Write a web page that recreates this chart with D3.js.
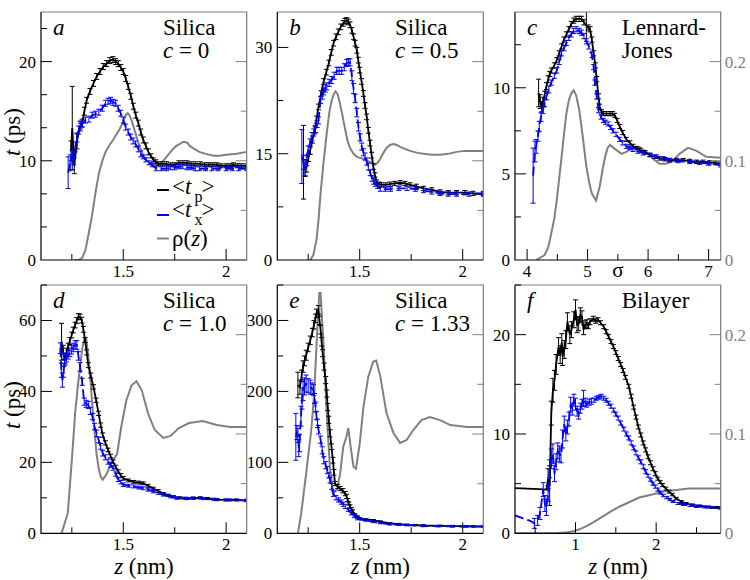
<!DOCTYPE html>
<html><head><meta charset="utf-8">
<script src="https://cdn.jsdelivr.net/npm/d3@7"></script>
</head><body style="margin:0"><svg id="c" width="750" height="580"></svg>
<script>
// ---------- data: [z, value, error] ----------
const aTp=[[1.246,11.0,1.0],[1.252,13.3,4.2],[1.262,9.5,0.8],[1.275,12.0,0.8],[1.29,13.5,0.5],[1.30,13.8,0.4],[1.311,15.0,0.4],[1.322,16.1,0.3],[1.338,17.0,0.3],[1.355,17.8,0.3],[1.371,18.5,0.3],[1.387,19.0,0.3],[1.403,19.5,0.3],[1.419,19.8,0.3],[1.435,20.1,0.3],[1.45,20.2,0.3],[1.463,20.0,0.3],[1.476,19.8,0.3],[1.488,19.4,0.3],[1.50,19.0,0.3],[1.512,18.3,0.3],[1.524,17.5,0.3],[1.537,16.5,0.3],[1.549,15.5,0.3],[1.561,14.6,0.3],[1.573,13.8,0.3],[1.585,12.9,0.3],[1.597,12.1,0.3],[1.61,11.5,0.3],[1.622,10.9,0.3],[1.634,10.5,0.2],[1.646,10.1,0.2],[1.658,9.9,0.2],[1.67,9.7,0.2],[1.69,9.7,0.2],[1.71,9.7,0.2],[1.73,9.6,0.2],[1.75,9.6,0.2],[1.77,9.8,0.2],[1.79,9.8,0.2],[1.81,9.8,0.2],[1.83,9.7,0.2],[1.85,9.7,0.2],[1.874,9.7,0.2],[1.895,9.6,0.2],[1.915,9.6,0.2],[1.935,9.6,0.2],[1.955,9.6,0.2],[1.975,9.5,0.2],[2.0,9.5,0.2],[2.02,9.5,0.2],[2.036,9.6,0.2],[2.055,9.5,0.2],[2.075,9.5,0.2],[2.1,9.5,0.2]];
const aTx=[[1.232,8.8,1.6],[1.242,9.8,0.8],[1.251,10.4,0.6],[1.259,10.2,0.6],[1.267,11.4,0.5],[1.275,12.3,0.4],[1.283,13.1,0.4],[1.292,13.5,0.3],[1.30,13.7,0.3],[1.316,14.1,0.3],[1.333,14.2,0.3],[1.349,14.6,0.3],[1.365,14.7,0.3],[1.381,14.9,0.3],[1.398,15.3,0.3],[1.414,15.8,0.3],[1.426,16.0,0.3],[1.438,16.1,0.3],[1.45,15.9,0.3],[1.463,15.8,0.3],[1.475,15.3,0.3],[1.487,14.8,0.3],[1.50,14.1,0.3],[1.512,13.4,0.3],[1.524,12.9,0.3],[1.536,12.4,0.3],[1.548,12.0,0.3],[1.56,11.7,0.3],[1.573,11.2,0.3],[1.585,10.7,0.3],[1.597,10.4,0.2],[1.61,10.1,0.2],[1.625,9.8,0.2],[1.64,9.6,0.2],[1.66,9.2,0.2],[1.685,9.2,0.2],[1.71,9.2,0.2],[1.73,9.3,0.2],[1.75,9.3,0.2],[1.77,9.4,0.2],[1.79,9.4,0.2],[1.81,9.3,0.2],[1.83,9.3,0.2],[1.85,9.2,0.2],[1.87,9.2,0.2],[1.9,9.2,0.2],[1.93,9.2,0.2],[1.96,9.2,0.2],[2.0,9.2,0.2],[2.03,9.2,0.2],[2.06,9.2,0.2],[2.1,9.2,0.2]];
const aRho=[[1.26,0],[1.283,0],[1.30,0.002],[1.316,0.01],[1.333,0.028],[1.349,0.046],[1.365,0.068],[1.381,0.087],[1.398,0.10],[1.414,0.109],[1.43,0.115],[1.45,0.121],[1.465,0.126],[1.48,0.131],[1.497,0.138],[1.512,0.146],[1.522,0.148],[1.53,0.146],[1.54,0.141],[1.55,0.134],[1.565,0.124],[1.58,0.114],[1.595,0.107],[1.61,0.101],[1.625,0.098],[1.64,0.096],[1.66,0.096],[1.677,0.097],[1.695,0.1],[1.71,0.104],[1.726,0.108],[1.742,0.112],[1.758,0.115],[1.775,0.117],[1.79,0.119],[1.80,0.119],[1.812,0.118],[1.823,0.115],[1.845,0.112],[1.87,0.109],[1.9,0.107],[1.94,0.105],[1.97,0.105],[2.0,0.106],[2.05,0.107],[2.1,0.109]];

const bTp=[[1.227,13.8,5.2],[1.235,13.0,1.2],[1.243,13.2,0.8],[1.252,14.5,0.6],[1.26,15.5,0.6],[1.271,17.0,0.5],[1.283,18.3,0.5],[1.29,19.8,0.5],[1.30,21.6,0.4],[1.313,23.5,0.4],[1.325,25.2,0.4],[1.338,26.5,0.4],[1.35,27.8,0.4],[1.362,29.3,0.4],[1.373,30.6,0.4],[1.385,31.5,0.4],[1.396,32.2,0.4],[1.408,32.9,0.4],[1.42,33.4,0.4],[1.428,33.7,0.4],[1.437,33.8,0.4],[1.445,33.6,0.4],[1.453,33.2,0.4],[1.462,32.4,0.4],[1.47,31.5,0.4],[1.478,30.6,0.4],[1.486,29.6,0.4],[1.493,28.2,0.4],[1.50,26.8,0.4],[1.509,25.2,0.4],[1.518,23.5,0.4],[1.526,21.8,0.4],[1.534,20.2,0.4],[1.542,18.3,0.4],[1.55,16.5,0.4],[1.558,14.8,0.4],[1.566,13.2,0.4],[1.574,12.0,0.3],[1.582,11.0,0.3],[1.594,10.7,0.3],[1.606,10.6,0.3],[1.626,10.6,0.3],[1.647,10.7,0.3],[1.67,10.8,0.3],[1.696,10.9,0.3],[1.72,10.8,0.3],[1.745,10.6,0.3],[1.775,10.4,0.3],[1.81,10.1,0.3],[1.85,9.9,0.3],[1.89,9.6,0.3],[1.93,9.5,0.3],[1.97,9.5,0.3],[2.01,9.5,0.3],[2.05,9.4,0.3],[2.1,9.4,0.3]];
const bTx=[[1.219,14.6,3.8],[1.227,13.8,1.0],[1.235,12.7,0.8],[1.243,14.0,0.7],[1.25,15.5,0.6],[1.259,16.5,0.6],[1.268,17.4,0.6],[1.277,18.0,0.5],[1.285,18.5,0.5],[1.293,19.2,0.5],[1.30,19.7,0.5],[1.31,22.6,0.5],[1.318,23.2,0.5],[1.325,23.8,0.5],[1.333,24.2,0.5],[1.34,24.5,0.5],[1.352,25.0,0.5],[1.364,25.4,0.5],[1.376,26.0,0.5],[1.389,26.7,0.5],[1.40,26.7,0.5],[1.413,26.7,0.5],[1.425,27.2,0.5],[1.437,27.8,0.5],[1.445,27.9,0.5],[1.453,27.9,0.5],[1.462,26.0,0.7],[1.47,24.2,0.7],[1.478,22.8,0.6],[1.486,20.8,0.6],[1.494,18.8,0.6],[1.502,17.3,0.5],[1.51,16.0,0.5],[1.518,15.2,0.5],[1.526,14.6,0.5],[1.534,13.9,0.5],[1.542,13.2,0.5],[1.551,12.3,0.4],[1.56,11.5,0.4],[1.567,11.1,0.4],[1.575,10.8,0.4],[1.587,10.4,0.3],[1.6,10.0,0.3],[1.625,10.0,0.3],[1.65,10.0,0.3],[1.69,10.1,0.3],[1.73,10.1,0.3],[1.77,10.0,0.3],[1.81,9.8,0.3],[1.85,9.6,0.3],[1.89,9.4,0.3],[1.93,9.3,0.3],[1.97,9.3,0.3],[2.03,9.3,0.3],[2.1,9.3,0.3]];
const bRho=[[1.26,0],[1.275,0.005],[1.29,0.02],[1.30,0.04],[1.31,0.067],[1.325,0.1],[1.34,0.128],[1.352,0.148],[1.364,0.161],[1.374,0.167],[1.383,0.17],[1.393,0.167],[1.404,0.158],[1.417,0.145],[1.43,0.131],[1.441,0.12],[1.453,0.113],[1.47,0.107],[1.486,0.104],[1.5,0.103],[1.518,0.102],[1.535,0.1],[1.55,0.099],[1.563,0.097],[1.575,0.096],[1.587,0.098],[1.6,0.102],[1.615,0.108],[1.63,0.113],[1.647,0.116],[1.664,0.117],[1.68,0.116],[1.696,0.114],[1.72,0.112],[1.745,0.11],[1.78,0.108],[1.81,0.107],[1.85,0.106],[1.89,0.106],[1.93,0.107],[1.97,0.109],[2.01,0.11],[2.05,0.11],[2.1,0.11]];

const cTp=[[4.19,9.7,0.8],[4.215,9.2,0.4],[4.24,8.9,0.3],[4.265,9.2,0.25],[4.29,9.6,0.2],[4.32,10.1,0.2],[4.35,10.5,0.2],[4.375,10.8,0.15],[4.40,11.0,0.15],[4.45,11.3,0.15],[4.49,11.6,0.15],[4.53,12.0,0.15],[4.57,12.4,0.15],[4.61,12.8,0.15],[4.65,13.1,0.15],[4.69,13.4,0.15],[4.73,13.7,0.15],[4.77,13.9,0.15],[4.81,14.0,0.15],[4.86,14.0,0.15],[4.90,14.0,0.15],[4.94,13.8,0.15],[4.98,13.6,0.9],[5.01,13.5,0.15],[5.04,13.4,0.15],[5.07,12.8,0.15],[5.10,12.0,0.15],[5.13,11.3,0.15],[5.15,10.5,0.15],[5.18,9.5,0.15],[5.20,8.9,0.15],[5.23,8.6,0.12],[5.26,8.5,0.12],[5.31,8.5,0.12],[5.37,8.5,0.12],[5.41,8.5,0.12],[5.45,8.4,0.12],[5.49,8.1,0.12],[5.53,7.75,0.12],[5.58,7.4,0.12],[5.64,7.0,0.12],[5.70,6.8,0.12],[5.75,6.6,0.12],[5.81,6.5,0.1],[5.86,6.4,0.1],[5.95,6.25,0.1],[6.03,6.1,0.1],[6.11,6.0,0.1],[6.19,5.9,0.1],[6.28,5.85,0.1],[6.36,5.8,0.1],[6.47,5.8,0.1],[6.58,5.8,0.1],[6.69,5.75,0.1],[6.8,5.7,0.1],[6.91,5.7,0.1],[7.02,5.67,0.1],[7.11,5.64,0.1],[7.2,5.6,0.1]];
const cTx=[[4.10,4.9,1.6],[4.13,6.3,0.6],[4.15,6.6,0.4],[4.18,7.2,0.3],[4.20,7.75,0.3],[4.23,8.3,0.25],[4.26,8.7,0.2],[4.29,9.1,0.2],[4.32,9.5,0.2],[4.36,9.9,0.2],[4.40,10.3,0.15],[4.45,10.7,0.15],[4.49,11.0,0.15],[4.53,11.5,0.15],[4.57,12.0,0.15],[4.61,12.3,0.15],[4.65,12.6,0.15],[4.69,12.9,0.15],[4.73,13.1,0.15],[4.77,13.3,0.15],[4.81,13.4,0.15],[4.86,13.3,0.15],[4.90,13.2,0.15],[4.94,13.0,0.15],[4.98,12.7,0.15],[5.02,12.4,0.15],[5.07,11.9,0.15],[5.10,11.2,0.15],[5.12,10.3,0.15],[5.15,9.5,0.15],[5.18,8.7,0.15],[5.22,8.3,0.12],[5.26,8.1,0.12],[5.30,8.0,0.12],[5.34,7.9,0.12],[5.38,7.7,0.12],[5.42,7.5,0.12],[5.47,7.3,0.12],[5.53,7.0,0.12],[5.58,6.8,0.12],[5.64,6.6,0.12],[5.70,6.5,0.1],[5.75,6.4,0.1],[5.83,6.3,0.1],[5.92,6.2,0.1],[6.03,6.1,0.1],[6.14,6.0,0.1],[6.25,5.9,0.1],[6.36,5.8,0.1],[6.5,5.75,0.1],[6.69,5.7,0.1],[6.85,5.65,0.1],[7.0,5.6,0.1],[7.2,5.5,0.1]];
const cRho=[[4.15,0],[4.29,0.005],[4.35,0.013],[4.40,0.027],[4.45,0.042],[4.49,0.06],[4.53,0.082],[4.57,0.104],[4.61,0.127],[4.65,0.148],[4.69,0.161],[4.73,0.168],[4.77,0.171],[4.81,0.166],[4.86,0.152],[4.90,0.134],[4.94,0.114],[4.98,0.094],[5.03,0.077],[5.07,0.067],[5.14,0.06],[5.2,0.074],[5.25,0.092],[5.29,0.104],[5.33,0.113],[5.37,0.116],[5.45,0.112],[5.56,0.107],[5.64,0.109],[5.75,0.114],[5.86,0.114],[5.97,0.109],[6.08,0.102],[6.19,0.097],[6.3,0.097],[6.41,0.10],[6.52,0.107],[6.66,0.113],[6.8,0.11],[6.96,0.104],[7.2,0.103]];

const dTp=[[1.20,54.0,5.2],[1.208,51.0,2.0],[1.216,49.3,1.5],[1.224,51.0,1.2],[1.232,52.6,1.0],[1.24,54.2,1.0],[1.249,55.9,0.8],[1.257,57.3,0.8],[1.266,58.7,0.8],[1.274,60.0,0.8],[1.282,61.1,0.8],[1.29,61.0,0.8],[1.298,60.1,0.8],[1.306,57.5,0.8],[1.314,54.5,0.7],[1.322,51.0,0.7],[1.33,47.4,0.7],[1.342,44.5,0.7],[1.355,41.3,0.6],[1.368,37.5,0.6],[1.38,33.8,0.6],[1.39,30.5,0.6],[1.40,27.7,0.6],[1.413,25.5,0.6],[1.426,23.5,0.5],[1.438,21.8,0.5],[1.45,20.2,0.5],[1.463,18.7,0.5],[1.476,17.4,0.5],[1.488,16.3,0.5],[1.50,15.5,0.5],[1.525,14.9,0.4],[1.55,14.5,0.4],[1.575,14.3,0.4],[1.597,14.1,0.4],[1.62,13.4,0.4],[1.646,12.6,0.4],[1.67,11.9,0.4],[1.695,11.2,0.3],[1.72,10.7,0.3],[1.744,10.3,0.3],[1.775,10.0,0.3],[1.81,9.8,0.3],[1.84,9.9,0.3],[1.874,10.0,0.3],[1.91,9.8,0.3],[1.955,9.5,0.3],[2.0,9.4,0.3],[2.05,9.4,0.3],[2.1,9.3,0.3]];
const dTx=[[1.194,52.2,1.5],[1.199,46.0,2.0],[1.204,43.2,2.0],[1.21,45.5,1.5],[1.216,48.9,1.5],[1.224,49.5,1.2],[1.232,50.3,1.2],[1.24,51.0,1.2],[1.249,51.7,1.2],[1.257,52.4,1.2],[1.266,53.1,1.2],[1.274,53.1,1.2],[1.282,50.0,1.2],[1.29,46.9,1.2],[1.30,42.7,1.0],[1.31,37.1,1.0],[1.32,36.5,1.0],[1.33,36.2,1.0],[1.34,34.5,1.0],[1.35,32.9,0.9],[1.36,30.1,0.9],[1.37,28.2,0.9],[1.38,26.3,0.8],[1.39,24.5,0.8],[1.40,22.6,0.8],[1.413,21.4,0.7],[1.426,20.2,0.7],[1.438,19.3,0.7],[1.45,18.4,0.6],[1.463,16.7,0.6],[1.476,15.1,0.5],[1.488,14.4,0.5],[1.50,13.7,0.5],[1.525,13.4,0.4],[1.55,13.2,0.4],[1.575,12.9,0.4],[1.597,12.7,0.4],[1.62,12.3,0.4],[1.646,11.8,0.4],[1.67,11.3,0.3],[1.695,10.8,0.3],[1.73,10.3,0.3],[1.76,9.9,0.3],[1.8,9.9,0.3],[1.84,9.9,0.3],[1.89,9.8,0.3],[1.94,9.6,0.3],[2.02,9.4,0.3],[2.1,9.2,0.3]];
const dRho=[[1.20,0],[1.23,0.02],[1.25,0.074],[1.266,0.121],[1.28,0.15],[1.29,0.168],[1.30,0.185],[1.31,0.196],[1.32,0.196],[1.33,0.178],[1.34,0.155],[1.35,0.128],[1.36,0.103],[1.37,0.08],[1.38,0.066],[1.39,0.057],[1.40,0.054],[1.42,0.06],[1.44,0.07],[1.47,0.08],[1.49,0.107],[1.515,0.134],[1.54,0.149],[1.564,0.153],[1.59,0.144],[1.62,0.121],[1.653,0.104],[1.695,0.096],[1.73,0.098],[1.77,0.106],[1.82,0.111],[1.886,0.113],[1.955,0.109],[2.02,0.107],[2.1,0.107]];

const eTp=[[1.20,209,18],[1.21,206,10],[1.218,222,8],[1.225,235,8],[1.232,243,7],[1.24,251,7],[1.25,262,6],[1.26,272,6],[1.27,283,6],[1.278,294,6],[1.285,303,6],[1.29,310,6],[1.30,315,6],[1.305,300,6],[1.31,287,6],[1.315,270,6],[1.32,254,5],[1.327,235,5],[1.335,216,5],[1.34,197,5],[1.345,178,5],[1.35,160,5],[1.356,141,5],[1.363,122,4],[1.37,103,4],[1.375,86,4],[1.38,70,3],[1.393,66,3],[1.405,63,3],[1.418,60,3],[1.43,56,3],[1.436,52,3],[1.442,47,2],[1.447,42,2],[1.453,38,2],[1.46,34,2],[1.465,31,2],[1.477,26,1.5],[1.49,23,1.5],[1.50,21,1],[1.53,19.5,1],[1.566,18.5,1],[1.6,16.5,1],[1.647,14,1],[1.69,13,1],[1.728,12,1],[1.77,11.5,1],[1.81,11,1],[1.89,10.6,1],[1.95,10.2,1],[2.0,10,1],[2.05,9.8,1],[2.1,9.7,1]];
const eTx=[[1.19,136,33],[1.195,142,10],[1.20,138,10],[1.204,120,12],[1.208,127,12],[1.215,165,14],[1.22,190,15],[1.225,202,15],[1.232,207,12],[1.24,211,12],[1.25,208,10],[1.26,206,10],[1.268,204,8],[1.276,202,8],[1.281,190,7],[1.286,178,7],[1.29,166,6],[1.295,155,6],[1.30,146,6],[1.31,132,5],[1.318,117,5],[1.326,103,5],[1.335,96,5],[1.343,89,5],[1.35,82,4],[1.356,75,4],[1.364,66,4],[1.372,56,4],[1.385,50,3],[1.397,47,3],[1.41,44,3],[1.42,41,3],[1.43,38,3],[1.445,33,2],[1.46,28,2],[1.475,24,2],[1.49,21,2],[1.51,19.5,1],[1.53,18,1],[1.566,16,1],[1.6,14.5,1],[1.647,12.6,1],[1.69,12,1],[1.73,11.5,1],[1.81,10.3,1],[1.88,10,1],[1.95,9.8,1],[2.02,9.6,1],[2.1,9.4,1]];
const eRho=[[1.20,0],[1.216,0.02],[1.24,0.06],[1.265,0.104],[1.28,0.144],[1.294,0.205],[1.304,0.242],[1.31,0.242],[1.325,0.188],[1.34,0.121],[1.355,0.067],[1.37,0.04],[1.39,0.044],[1.405,0.06],[1.42,0.087],[1.435,0.097],[1.445,0.106],[1.456,0.087],[1.47,0.067],[1.482,0.065],[1.50,0.09],[1.518,0.127],[1.542,0.158],[1.566,0.173],[1.58,0.174],[1.60,0.158],[1.63,0.121],[1.664,0.101],[1.696,0.091],[1.728,0.094],[1.76,0.104],[1.80,0.114],[1.84,0.117],[1.89,0.114],[1.94,0.109],[2.02,0.107],[2.1,0.107]];

const fTp=[[0.25,4.55,0],[0.40,4.5,0],[0.55,4.45,0],[0.64,4.4,0],[0.66,5.5,1.0],[0.68,4.8,2.0],[0.70,12.1,1.2],[0.72,14.4,1.2],[0.74,15.4,1.0],[0.76,17.0,1.0],[0.79,18.8,0.9],[0.81,18.0,0.9],[0.83,19.2,0.9],[0.84,17.8,0.9],[0.86,18.5,0.9],[0.88,19.5,0.9],[0.90,21.3,0.9],[0.93,20.0,0.9],[0.95,20.5,0.8],[0.98,21.5,0.8],[1.0,22.5,1.0],[1.02,21.0,0.8],[1.04,21.1,0.7],[1.06,22.0,0.7],[1.08,21.8,0.6],[1.10,20.5,0.5],[1.12,21.0,0.4],[1.14,21.1,0.4],[1.16,20.9,0.3],[1.18,21.3,0.3],[1.22,21.6,0.25],[1.25,21.4,0.25],[1.28,21.5,0.2],[1.31,21.2,0.2],[1.35,20.8,0.2],[1.38,20.3,0.2],[1.41,19.8,0.2],[1.44,19.3,0.2],[1.47,18.8,0.2],[1.50,18.2,0.2],[1.53,17.6,0.2],[1.56,17.0,0.2],[1.59,16.4,0.2],[1.62,15.7,0.2],[1.66,14.8,0.2],[1.69,13.8,0.2],[1.72,12.7,0.2],[1.75,11.7,0.2],[1.78,10.7,0.2],[1.81,9.9,0.2],[1.84,9.1,0.2],[1.87,8.4,0.2],[1.9,7.7,0.2],[1.93,7.1,0.2],[1.96,6.5,0.2],[1.99,6.0,0.2],[2.02,5.5,0.15],[2.05,5.15,0.15],[2.08,4.85,0.15],[2.12,4.5,0.15],[2.16,4.2,0.15],[2.2,3.9,0.12],[2.25,3.5,0.12],[2.31,3.2,0.1],[2.37,3.0,0.1],[2.45,2.85,0.1],[2.54,2.75,0.1],[2.65,2.65,0.1],[2.75,2.6,0.1],[2.8,2.55,0.1]];
const fTx=[[0.25,1.8,0],[0.35,1.5,0],[0.44,1.25,0],[0.49,1.0,0.5],[0.53,1.3,0.5],[0.56,2.0,0.6],[0.60,4.4,0.7],[0.62,3.0,0.8],[0.64,2.6,0.8],[0.66,4.0,0.8],[0.68,6.5,0.9],[0.70,7.5,1.0],[0.72,8.0,1.0],[0.74,6.0,0.8],[0.76,7.2,0.8],[0.78,8.3,0.8],[0.80,8.0,0.8],[0.82,7.8,0.7],[0.84,9.5,0.9],[0.86,11.0,0.8],[0.88,10.0,0.7],[0.90,10.7,0.7],[0.92,11.5,0.7],[0.94,13.0,0.7],[0.96,12.5,0.6],[0.98,13.4,0.6],[1.0,13.0,0.6],[1.02,12.3,0.5],[1.04,12.0,0.5],[1.06,12.6,0.5],[1.08,13.0,0.5],[1.10,13.6,0.8],[1.12,13.2,0.4],[1.14,13.0,0.3],[1.17,13.2,0.3],[1.20,13.3,0.3],[1.23,13.4,0.2],[1.26,13.6,0.2],[1.29,13.7,0.2],[1.32,13.8,0.2],[1.35,13.6,0.2],[1.38,13.4,0.2],[1.41,13.1,0.2],[1.44,12.8,0.2],[1.47,12.4,0.2],[1.50,12.0,0.2],[1.53,11.6,0.2],[1.56,11.1,0.2],[1.60,10.5,0.2],[1.63,10.0,0.2],[1.66,9.6,0.2],[1.69,9.1,0.2],[1.72,8.6,0.2],[1.75,8.1,0.2],[1.78,7.6,0.2],[1.81,7.2,0.2],[1.84,6.7,0.2],[1.87,6.2,0.2],[1.90,5.8,0.15],[1.93,5.4,0.15],[1.96,5.0,0.15],[1.99,4.7,0.15],[2.02,4.4,0.15],[2.05,4.1,0.15],[2.09,3.8,0.12],[2.13,3.6,0.12],[2.17,3.4,0.12],[2.21,3.2,0.1],[2.27,3.0,0.1],[2.34,2.9,0.1],[2.42,2.8,0.1],[2.5,2.7,0.1],[2.6,2.65,0.1],[2.7,2.6,0.1],[2.8,2.55,0.1]];
const fRho=[[0.25,0],[0.6,0],[0.75,0],[0.9,0.001],[0.97,0.002],[1.05,0.004],[1.13,0.007],[1.22,0.011],[1.3,0.015],[1.38,0.019],[1.46,0.023],[1.55,0.027],[1.63,0.030],[1.71,0.033],[1.79,0.036],[1.9,0.038],[2.0,0.040],[2.1,0.042],[2.2,0.043],[2.3,0.044],[2.41,0.045],[2.5,0.045],[2.58,0.045],[2.7,0.045],[2.8,0.045]];

// axis domains and labels
const xDomains={a:[1.1,2.1],b:[1.1,2.1],c:[3.8,7.2],d:[1.1,2.1],e:[1.1,2.1],f:[0.25,2.8]};
const yDomains={a:[0,25],b:[0,35],c:[0,14.4],d:[0,70],e:[0,350],f:[0,25]};
const rhoDomain=[0,0.25];
const titles={a:["Silica","c","= 0"],b:["Silica","c","= 0.5"],c:["Lennard-","","Jones"],d:["Silica","c","= 1.0"],e:["Silica","c","= 1.33"],f:["Bilayer",null,null]};
const legendLabels=[["t","p"],["t","x"],["ρ","z"]];

// ---------- layout / style ----------
const fams=["Liberation Serif"];
const BLACK="#000",BLUE="#0000ff",GRAY="#808080",FRAME="#7a7a7a";
const cols=[[41,246.7],[277.3,483.3],[515,720.7]];
const rows=[[12,260],[285,533.3]];
const cfg=[
 {k:"a",c:0,r:0,tp:aTp,tx:aTx,rho:aRho,xs:0.5,xn:2,ys:10,yn:3,rl:false},
 {k:"b",c:1,r:0,tp:bTp,tx:bTx,rho:bRho,xs:0.5,xn:2,ys:15,yn:2,rl:false},
 {k:"c",c:2,r:0,tp:cTp,tx:cTx,rho:cRho,xs:1,xn:2,ys:5,yn:2,rl:true},
 {k:"d",c:0,r:1,tp:dTp,tx:dTx,rho:dRho,xs:0.5,xn:2,ys:20,yn:2,rl:false},
 {k:"e",c:1,r:1,tp:eTp,tx:eTx,rho:eRho,xs:0.5,xn:2,ys:100,yn:2,rl:false},
 {k:"f",c:2,r:1,tp:fTp,tx:fTx,rho:fRho,xs:1,xn:2,ys:10,yn:2,rl:true}
];
const svg=d3.select("#c");
const MAJ=11,MIN=6,TF=17;
const marks=svg.append("g");
const labels=[];
function fmt(v){return String(+v.toFixed(3));}
function addText(o){labels.push(o);}

cfg.forEach(p=>{
  const [x0,x1]=cols[p.c],[y0,y1]=rows[p.r];
  const x=d3.scaleLinear().domain(xDomains[p.k]).range([x0,x1]);
  const y=d3.scaleLinear().domain(yDomains[p.k]).range([y1,y0]);
  const rr=d3.scaleLinear().domain(rhoDomain).range([y1,y0]);
  const g=marks.append("g");
  const cid="clip"+p.k;
  svg.append("clipPath").attr("id",cid).append("rect").attr("x",x0).attr("y",y0).attr("width",x1-x0).attr("height",y1-y0);
  const plot=g.append("g").attr("clip-path","url(#"+cid+")");
  plot.append("path").datum(p.rho).attr("fill","none").attr("stroke",GRAY).attr("stroke-width",2)
    .attr("d",d3.line().x(d=>x(d[0])).y(d=>rr(d[1])));
  function series(data,color,dash){
    plot.append("path").datum(data).attr("fill","none").attr("stroke",color).attr("stroke-width",1.8)
      .attr("stroke-dasharray",dash||null).attr("d",d3.line().x(d=>x(d[0])).y(d=>y(d[1])));
    plot.append("path").attr("fill","none").attr("stroke",color).attr("stroke-width",1)
      .attr("d",data.filter(d=>d[2]>0).map(d=>{const px=x(d[0]),a=y(d[1]+d[2]),b=y(d[1]-d[2]);
        return `M${px},${a}V${b}M${px-2.5},${a}h5M${px-2.5},${b}h5`;}).join(""));
  }
  series(p.tp,BLACK);
  series(p.tx,BLUE,"9,4");
  g.append("path").attr("d",`M${x0},${y0}H${x1}V${y1}`).attr("fill","none").attr("stroke",FRAME).attr("stroke-width",1.2);
  g.append("path").attr("d",`M${x0},${y0}V${y1}H${x1}`).attr("fill","none").attr("stroke",BLACK).attr("stroke-width",1.2);
  const xd=xDomains[p.k],xm=p.xs/p.xn;
  const xt=d3.range(Math.ceil(xd[0]/xm-1e-9),Math.floor(xd[1]/xm+1e-9)+1).map(i=>i*xm);
  xt.forEach(v=>{
    const maj=Math.abs(v/p.xs-Math.round(v/p.xs))<1e-6;
    g.append("line").attr("x1",x(v)).attr("x2",x(v)).attr("y1",y1).attr("y2",y1-(maj?MAJ:MIN)).attr("stroke",BLACK).attr("stroke-width",1);
    if(maj) addText({x:x(v),y:y1+17,a:"middle",s:TF,parts:[[fmt(v)]]});
  });
  const yd=yDomains[p.k],ym=p.ys/p.yn;
  const yt=d3.range(0,Math.floor(yd[1]/ym+1e-9)+1).map(i=>i*ym);
  yt.forEach(v=>{
    const maj=Math.abs(v/p.ys-Math.round(v/p.ys))<1e-6;
    if(v>0) g.append("line").attr("x1",x0).attr("x2",x0+(maj?MAJ:MIN)).attr("y1",y(v)).attr("y2",y(v)).attr("stroke",BLACK).attr("stroke-width",1);
    if(maj) addText({x:x0-5,y:y(v)+6,a:"end",s:TF,parts:[[fmt(v)]]});
  });
  d3.range(1,5).map(i=>i*0.05).forEach(v=>{
    const maj=Math.abs(v*10-Math.round(v*10))<1e-6;
    g.append("line").attr("x1",x1).attr("x2",x1-(maj?MAJ:MIN)).attr("y1",rr(v)).attr("y2",rr(v)).attr("stroke",GRAY).attr("stroke-width",1);
  });
  if(p.rl){
    [0,0.1,0.2].forEach(v=>addText({x:x1+4,y:rr(v)+6,a:"start",s:TF,fill:GRAY,parts:[[fmt(v)]]}));
  }
  addText({x:x0+12,y:y0+23,a:"start",s:23,parts:[[p.k,"i"]]});
  const t=titles[p.k];
  const tx0=p.c===0?163:(p.c===1?395:621.7);
  addText({x:tx0,y:y0+23,a:"start",s:23,parts:[[t[0]]]});
  if(t[2]!==null){
    addText({x:tx0,y:y0+46,a:"start",s:23,parts:t[1]?[[t[1]+" ","i"],[t[2]]]:[[t[2]]]});
  }
  if(p.r===1) addText({x:(x0+x1)/2,y:574,a:"middle",s:23,parts:[["z","i"],[" (nm)"]]});
  if(p.c===0) addText({x:20,y:(y0+y1)/2-4,a:"middle",s:23,rot:true,parts:[["t","i"],[" (ps)"]]});
  if(p.k==="c") addText({x:x(5.5),y:y1+17,a:"middle",s:21,parts:[["σ"]]});
  if(p.k==="a"){
    const lg=[[BLACK,190,194],[BLUE,215,217],[GRAY,238.5,246]];
    lg.forEach((L,i)=>{
      g.append("line").attr("x1",157).attr("x2",169).attr("y1",L[1]).attr("y2",L[1]).attr("stroke",L[0]).attr("stroke-width",2);
      const lab=legendLabels[i];
      if(i<2) addText({x:172,y:L[2],a:"start",s:23,parts:[["<"],[lab[0],"i"],[lab[1],"sub"],[">","sup"]]});
      else addText({x:172,y:L[2],a:"start",s:23,parts:[[lab[0]+"("],[lab[1],"i"],[")"]]});
    });
  }
});

labels.forEach(o=>{
  const el=svg.append("text").attr("font-family",fams[0]).attr("font-size",o.s).attr("text-anchor",o.a).attr("fill",o.fill||BLACK);
  if(o.rot) el.attr("transform",`translate(${o.x},${o.y}) rotate(-90)`);
  else el.attr("x",o.x).attr("y",o.y);
  o.parts.forEach(pt=>{
    const ts=el.append("tspan").text(pt[0]);
    if(pt[1]==="i") ts.attr("font-style","italic");
    if(pt[1]==="sub") ts.attr("font-size",16).attr("dx",3).attr("dy",8);
    if(pt[1]==="sup") ts.attr("dx",-1).attr("dy",-8);
  });
});
</script></body></html>
